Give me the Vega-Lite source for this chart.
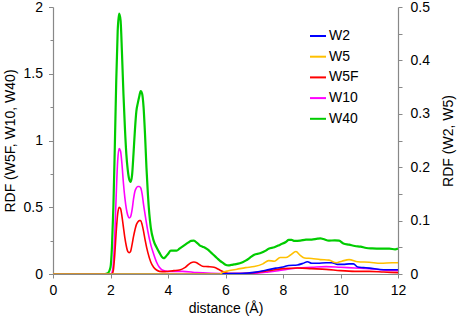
{
  "$schema": "https://vega.github.io/schema/vega-lite/v6.json",
  "autosize": "none",
  "width": 345,
  "height": 267,
  "padding": {"left": 53, "top": 7, "right": 59, "bottom": 45},
  "background": "white",
  "datasets": {
    "left": [
      {"x": 0, "series": "W40", "y": 0}, {"x": 1.8, "series": "W40", "y": 0}, {"x": 1.9, "series": "W40", "y": 0.005},
      {"x": 2.0, "series": "W40", "y": 0.05}, {"x": 2.05, "series": "W40", "y": 0.2}, {"x": 2.1, "series": "W40", "y": 0.5},
      {"x": 2.15, "series": "W40", "y": 0.95}, {"x": 2.2, "series": "W40", "y": 1.45}, {"x": 2.25, "series": "W40", "y": 1.82},
      {"x": 2.3, "series": "W40", "y": 1.95}, {"x": 2.35, "series": "W40", "y": 1.9}, {"x": 2.4, "series": "W40", "y": 1.65},
      {"x": 2.45, "series": "W40", "y": 1.35}, {"x": 2.5, "series": "W40", "y": 1.1}, {"x": 2.55, "series": "W40", "y": 0.9},
      {"x": 2.6, "series": "W40", "y": 0.78}, {"x": 2.65, "series": "W40", "y": 0.71}, {"x": 2.7, "series": "W40", "y": 0.69},
      {"x": 2.75, "series": "W40", "y": 0.74}, {"x": 2.8, "series": "W40", "y": 0.9}, {"x": 2.85, "series": "W40", "y": 1.08},
      {"x": 2.9, "series": "W40", "y": 1.22}, {"x": 2.95, "series": "W40", "y": 1.28}, {"x": 3.0, "series": "W40", "y": 1.33},
      {"x": 3.05, "series": "W40", "y": 1.37}, {"x": 3.1, "series": "W40", "y": 1.35}, {"x": 3.15, "series": "W40", "y": 1.25},
      {"x": 3.2, "series": "W40", "y": 1.05}, {"x": 3.25, "series": "W40", "y": 0.8}, {"x": 3.3, "series": "W40", "y": 0.6},
      {"x": 3.35, "series": "W40", "y": 0.45}, {"x": 3.4, "series": "W40", "y": 0.35}, {"x": 3.5, "series": "W40", "y": 0.25},
      {"x": 3.6, "series": "W40", "y": 0.2}, {"x": 3.7, "series": "W40", "y": 0.16}, {"x": 3.8, "series": "W40", "y": 0.125},
      {"x": 3.85, "series": "W40", "y": 0.118}, {"x": 3.9, "series": "W40", "y": 0.125}, {"x": 4.0, "series": "W40", "y": 0.15},
      {"x": 4.1, "series": "W40", "y": 0.175}, {"x": 4.2, "series": "W40", "y": 0.175}, {"x": 4.3, "series": "W40", "y": 0.175},
      {"x": 4.4, "series": "W40", "y": 0.19}, {"x": 4.5, "series": "W40", "y": 0.205}, {"x": 4.6, "series": "W40", "y": 0.22},
      {"x": 4.7, "series": "W40", "y": 0.235}, {"x": 4.8, "series": "W40", "y": 0.248}, {"x": 4.9, "series": "W40", "y": 0.25},
      {"x": 5.0, "series": "W40", "y": 0.235}, {"x": 5.1, "series": "W40", "y": 0.215}, {"x": 5.2, "series": "W40", "y": 0.205},
      {"x": 5.3, "series": "W40", "y": 0.195}, {"x": 5.4, "series": "W40", "y": 0.18}, {"x": 5.5, "series": "W40", "y": 0.16},
      {"x": 5.6, "series": "W40", "y": 0.14}, {"x": 5.7, "series": "W40", "y": 0.12}, {"x": 5.8, "series": "W40", "y": 0.1},
      {"x": 5.9, "series": "W40", "y": 0.085}, {"x": 6.0, "series": "W40", "y": 0.07}, {"x": 6.1, "series": "W40", "y": 0.065},
      {"x": 6.2, "series": "W40", "y": 0.068}, {"x": 6.3, "series": "W40", "y": 0.072}, {"x": 6.5, "series": "W40", "y": 0.08},
      {"x": 6.7, "series": "W40", "y": 0.1}, {"x": 6.9, "series": "W40", "y": 0.13}, {"x": 7.0, "series": "W40", "y": 0.145},
      {"x": 7.2, "series": "W40", "y": 0.155}, {"x": 7.4, "series": "W40", "y": 0.175}, {"x": 7.5, "series": "W40", "y": 0.19},
      {"x": 7.7, "series": "W40", "y": 0.2}, {"x": 7.9, "series": "W40", "y": 0.22}, {"x": 8.1, "series": "W40", "y": 0.24},
      {"x": 8.2, "series": "W40", "y": 0.255}, {"x": 8.3, "series": "W40", "y": 0.255}, {"x": 8.4, "series": "W40", "y": 0.248},
      {"x": 8.6, "series": "W40", "y": 0.25}, {"x": 8.8, "series": "W40", "y": 0.257}, {"x": 9.0, "series": "W40", "y": 0.258},
      {"x": 9.2, "series": "W40", "y": 0.265}, {"x": 9.3, "series": "W40", "y": 0.267}, {"x": 9.4, "series": "W40", "y": 0.262},
      {"x": 9.6, "series": "W40", "y": 0.25}, {"x": 9.8, "series": "W40", "y": 0.252}, {"x": 9.95, "series": "W40", "y": 0.25},
      {"x": 10.1, "series": "W40", "y": 0.228}, {"x": 10.3, "series": "W40", "y": 0.22}, {"x": 10.5, "series": "W40", "y": 0.21},
      {"x": 10.7, "series": "W40", "y": 0.205}, {"x": 10.9, "series": "W40", "y": 0.195}, {"x": 11.1, "series": "W40", "y": 0.192},
      {"x": 11.4, "series": "W40", "y": 0.19}, {"x": 11.7, "series": "W40", "y": 0.19}, {"x": 11.9, "series": "W40", "y": 0.185},
      {"x": 12.0, "series": "W40", "y": 0.19},

      {"x": 0, "series": "W10", "y": 0}, {"x": 2.0, "series": "W10", "y": 0}, {"x": 2.05, "series": "W10", "y": 0.01},
      {"x": 2.1, "series": "W10", "y": 0.08}, {"x": 2.15, "series": "W10", "y": 0.3}, {"x": 2.2, "series": "W10", "y": 0.6},
      {"x": 2.25, "series": "W10", "y": 0.85}, {"x": 2.3, "series": "W10", "y": 0.94}, {"x": 2.35, "series": "W10", "y": 0.92},
      {"x": 2.4, "series": "W10", "y": 0.82}, {"x": 2.45, "series": "W10", "y": 0.68}, {"x": 2.5, "series": "W10", "y": 0.57},
      {"x": 2.55, "series": "W10", "y": 0.49}, {"x": 2.6, "series": "W10", "y": 0.44}, {"x": 2.65, "series": "W10", "y": 0.42},
      {"x": 2.7, "series": "W10", "y": 0.43}, {"x": 2.75, "series": "W10", "y": 0.48}, {"x": 2.8, "series": "W10", "y": 0.56},
      {"x": 2.85, "series": "W10", "y": 0.62}, {"x": 2.9, "series": "W10", "y": 0.645}, {"x": 2.95, "series": "W10", "y": 0.655},
      {"x": 3.0, "series": "W10", "y": 0.655}, {"x": 3.05, "series": "W10", "y": 0.645}, {"x": 3.1, "series": "W10", "y": 0.6},
      {"x": 3.15, "series": "W10", "y": 0.52}, {"x": 3.2, "series": "W10", "y": 0.45}, {"x": 3.3, "series": "W10", "y": 0.32},
      {"x": 3.4, "series": "W10", "y": 0.22}, {"x": 3.5, "series": "W10", "y": 0.15}, {"x": 3.6, "series": "W10", "y": 0.09},
      {"x": 3.7, "series": "W10", "y": 0.05}, {"x": 3.8, "series": "W10", "y": 0.03}, {"x": 4.0, "series": "W10", "y": 0.02},
      {"x": 4.5, "series": "W10", "y": 0.02}, {"x": 5.0, "series": "W10", "y": 0.01}, {"x": 5.5, "series": "W10", "y": 0.005},
      {"x": 6.0, "series": "W10", "y": 0.003}, {"x": 7.0, "series": "W10", "y": 0.005}, {"x": 7.5, "series": "W10", "y": 0.015},
      {"x": 8.0, "series": "W10", "y": 0.03}, {"x": 8.5, "series": "W10", "y": 0.045}, {"x": 9.0, "series": "W10", "y": 0.05},
      {"x": 9.5, "series": "W10", "y": 0.055}, {"x": 10.0, "series": "W10", "y": 0.05}, {"x": 10.5, "series": "W10", "y": 0.045},
      {"x": 11.0, "series": "W10", "y": 0.04}, {"x": 11.5, "series": "W10", "y": 0.03}, {"x": 12.0, "series": "W10", "y": 0.025},

      {"x": 0, "series": "W5F", "y": 0}, {"x": 2.05, "series": "W5F", "y": 0}, {"x": 2.1, "series": "W5F", "y": 0.03},
      {"x": 2.15, "series": "W5F", "y": 0.15}, {"x": 2.2, "series": "W5F", "y": 0.32}, {"x": 2.25, "series": "W5F", "y": 0.45},
      {"x": 2.3, "series": "W5F", "y": 0.5}, {"x": 2.35, "series": "W5F", "y": 0.49}, {"x": 2.4, "series": "W5F", "y": 0.43},
      {"x": 2.45, "series": "W5F", "y": 0.35}, {"x": 2.5, "series": "W5F", "y": 0.27}, {"x": 2.55, "series": "W5F", "y": 0.21},
      {"x": 2.6, "series": "W5F", "y": 0.17}, {"x": 2.65, "series": "W5F", "y": 0.16}, {"x": 2.7, "series": "W5F", "y": 0.17},
      {"x": 2.75, "series": "W5F", "y": 0.22}, {"x": 2.8, "series": "W5F", "y": 0.28}, {"x": 2.85, "series": "W5F", "y": 0.33},
      {"x": 2.9, "series": "W5F", "y": 0.37}, {"x": 2.95, "series": "W5F", "y": 0.39}, {"x": 3.0, "series": "W5F", "y": 0.4},
      {"x": 3.05, "series": "W5F", "y": 0.4}, {"x": 3.1, "series": "W5F", "y": 0.37}, {"x": 3.15, "series": "W5F", "y": 0.32},
      {"x": 3.2, "series": "W5F", "y": 0.26}, {"x": 3.3, "series": "W5F", "y": 0.16}, {"x": 3.4, "series": "W5F", "y": 0.09},
      {"x": 3.5, "series": "W5F", "y": 0.05}, {"x": 3.6, "series": "W5F", "y": 0.03}, {"x": 3.7, "series": "W5F", "y": 0.02},
      {"x": 3.9, "series": "W5F", "y": 0.018}, {"x": 4.2, "series": "W5F", "y": 0.025}, {"x": 4.4, "series": "W5F", "y": 0.03},
      {"x": 4.6, "series": "W5F", "y": 0.05}, {"x": 4.8, "series": "W5F", "y": 0.085}, {"x": 4.9, "series": "W5F", "y": 0.09},
      {"x": 5.0, "series": "W5F", "y": 0.085}, {"x": 5.1, "series": "W5F", "y": 0.07}, {"x": 5.2, "series": "W5F", "y": 0.058},
      {"x": 5.4, "series": "W5F", "y": 0.055}, {"x": 5.6, "series": "W5F", "y": 0.05}, {"x": 5.8, "series": "W5F", "y": 0.03},
      {"x": 6.0, "series": "W5F", "y": 0.01}, {"x": 6.2, "series": "W5F", "y": 0.003}, {"x": 6.6, "series": "W5F", "y": 0.003},
      {"x": 7.0, "series": "W5F", "y": 0.01}, {"x": 7.5, "series": "W5F", "y": 0.025}, {"x": 8.0, "series": "W5F", "y": 0.04},
      {"x": 8.5, "series": "W5F", "y": 0.045}, {"x": 9.0, "series": "W5F", "y": 0.04}, {"x": 9.5, "series": "W5F", "y": 0.035},
      {"x": 10.0, "series": "W5F", "y": 0.025}, {"x": 10.5, "series": "W5F", "y": 0.02}, {"x": 11.0, "series": "W5F", "y": 0.02},
      {"x": 11.5, "series": "W5F", "y": 0.015}, {"x": 12.0, "series": "W5F", "y": 0.01}
    ],
    "right": [
      {"x": 0, "series": "W2", "y": 0}, {"x": 5.5, "series": "W2", "y": 0}, {"x": 6.0, "series": "W2", "y": 0.0005},
      {"x": 6.5, "series": "W2", "y": 0.001}, {"x": 7.0, "series": "W2", "y": 0.003}, {"x": 7.4, "series": "W2", "y": 0.007},
      {"x": 7.75, "series": "W2", "y": 0.011}, {"x": 8.0, "series": "W2", "y": 0.013}, {"x": 8.2, "series": "W2", "y": 0.016},
      {"x": 8.5, "series": "W2", "y": 0.017}, {"x": 8.7, "series": "W2", "y": 0.02}, {"x": 8.85, "series": "W2", "y": 0.023},
      {"x": 9.0, "series": "W2", "y": 0.02}, {"x": 9.2, "series": "W2", "y": 0.02}, {"x": 9.5, "series": "W2", "y": 0.021},
      {"x": 9.7, "series": "W2", "y": 0.021}, {"x": 9.9, "series": "W2", "y": 0.018}, {"x": 10.1, "series": "W2", "y": 0.018},
      {"x": 10.3, "series": "W2", "y": 0.019}, {"x": 10.45, "series": "W2", "y": 0.019}, {"x": 10.6, "series": "W2", "y": 0.013},
      {"x": 10.8, "series": "W2", "y": 0.012}, {"x": 11.0, "series": "W2", "y": 0.011}, {"x": 11.5, "series": "W2", "y": 0.008},
      {"x": 12.0, "series": "W2", "y": 0.008},

      {"x": 0, "series": "W5", "y": 0}, {"x": 5.8, "series": "W5", "y": 0}, {"x": 5.9, "series": "W5", "y": 0.003},
      {"x": 6.1, "series": "W5", "y": 0.006}, {"x": 6.4, "series": "W5", "y": 0.009}, {"x": 6.7, "series": "W5", "y": 0.012},
      {"x": 7.0, "series": "W5", "y": 0.014}, {"x": 7.3, "series": "W5", "y": 0.019}, {"x": 7.5, "series": "W5", "y": 0.025},
      {"x": 7.7, "series": "W5", "y": 0.024}, {"x": 7.9, "series": "W5", "y": 0.031}, {"x": 8.1, "series": "W5", "y": 0.031},
      {"x": 8.25, "series": "W5", "y": 0.035}, {"x": 8.45, "series": "W5", "y": 0.042}, {"x": 8.6, "series": "W5", "y": 0.035},
      {"x": 8.75, "series": "W5", "y": 0.03}, {"x": 9.0, "series": "W5", "y": 0.029}, {"x": 9.3, "series": "W5", "y": 0.027},
      {"x": 9.6, "series": "W5", "y": 0.026}, {"x": 9.85, "series": "W5", "y": 0.021}, {"x": 10.05, "series": "W5", "y": 0.024},
      {"x": 10.3, "series": "W5", "y": 0.027}, {"x": 10.6, "series": "W5", "y": 0.023}, {"x": 11.0, "series": "W5", "y": 0.022},
      {"x": 11.4, "series": "W5", "y": 0.02}, {"x": 11.8, "series": "W5", "y": 0.021}, {"x": 12.0, "series": "W5", "y": 0.021}
    ]
  },
  "layer": [
    {
      "data": {"name": "left"},
      "mark": {"type": "line", "interpolate": "monotone", "clip": true},
      "encoding": {
        "x": {
          "field": "x", "type": "quantitative",
          "scale": {"domain": [0, 12], "nice": false, "zero": false},
          "axis": {
            "title": "distance (Å)",
            "values": [0, 1, 2, 3, 4, 5, 6, 7, 8, 9, 10, 11, 12],
            "labelExpr": "datum.value % 2 === 0 ? format(datum.value, 'd') : ''",
            "labelPadding": 5, "titlePadding": 4
          }
        },
        "y": {
          "field": "y", "type": "quantitative",
          "scale": {"domain": [0, 2], "nice": false},
          "axis": {
            "orient": "left",
            "title": "RDF (W5F, W10, W40)",
            "values": [0, 0.25, 0.5, 0.75, 1, 1.25, 1.5, 1.75, 2],
            "labelExpr": "datum.value % 0.5 === 0 ? format(datum.value, '.1~f') : ''",
            "tickSize": {"condition": {"test": "datum.value % 0.5 === 0", "value": 4.5}, "value": 3},
            "labelPadding": 6, "titlePadding": 6
          }
        },
        "color": {
          "field": "series", "type": "nominal",
          "scale": {"domain": ["W2", "W5", "W5F", "W10", "W40"], "range": ["#0000FF", "#FFC000", "#FF0000", "#FF00FF", "#00CC00"]},
          "legend": {
            "orient": "none", "legendX": 256, "legendY": 20, "title": null,
            "symbolType": "stroke", "symbolSize": 256, "symbolStrokeWidth": 2,
            "labelFont": "Liberation Sans", "labelFontSize": 14, "labelColor": "#000",
            "rowPadding": 4.7, "labelOffset": 2, "padding": 0
          }
        },
        "strokeWidth": {"condition": {"test": "datum.series === 'W40'", "value": 2.2}, "value": 1.6}
      }
    },
    {
      "data": {"name": "right"},
      "mark": {"type": "line", "interpolate": "monotone", "clip": true},
      "encoding": {
        "x": {"field": "x", "type": "quantitative", "scale": {"domain": [0, 12], "nice": false, "zero": false}},
        "y": {
          "field": "y", "type": "quantitative",
          "scale": {"domain": [0, 0.5], "nice": false},
          "axis": {
            "orient": "right",
            "title": "RDF (W2, W5)",
            "titleAngle": 270,
            "values": [0, 0.05, 0.1, 0.15, 0.2, 0.25, 0.3, 0.35, 0.4, 0.45, 0.5],
            "labelExpr": "round(datum.value * 100) % 10 === 0 ? format(datum.value, '.1~f') : ''",
            "labelPadding": 8, "titlePadding": 26
          }
        },
        "color": {
          "field": "series", "type": "nominal",
          "scale": {"domain": ["W2", "W5", "W5F", "W10", "W40"], "range": ["#0000FF", "#FFC000", "#FF0000", "#FF00FF", "#00CC00"]}
        },
        "strokeWidth": {"value": 1.6}
      }
    }
  ],
  "resolve": {"scale": {"y": "independent"}},
  "config": {
    "view": {"stroke": null},
    "axis": {
      "grid": false,
      "domainColor": "#888888", "tickColor": "#888888", "domainWidth": 1.2, "tickWidth": 1,
      "tickSize": 4,
      "labelFont": "Liberation Sans", "labelFontSize": 14, "labelColor": "#000000",
      "labelFlush": false, "labelOverlap": false,
      "titleFont": "Liberation Sans", "titleFontSize": 14, "titleFontWeight": "normal", "titleColor": "#000000"
    }
  }
}
